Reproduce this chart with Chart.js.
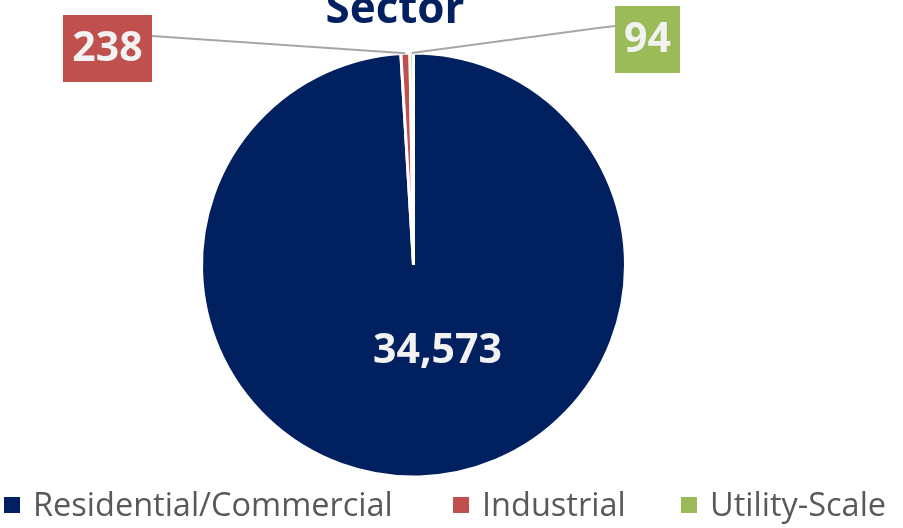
<!DOCTYPE html>
<html>
<head>
<meta charset="utf-8">
<script src="https://cdn.jsdelivr.net/npm/chart.js@4.4.1/dist/chart.umd.min.js"></script>
<style>
  html, body { margin: 0; padding: 0; background: #fff; }
  #wrap { width: 903px; height: 528px; position: relative; }
</style>
</head>
<body>
<div id="wrap"><canvas id="sectorChart" width="903" height="528"></canvas></div>
<script>
const labels = ["Residential/Commercial", "Industrial", "Utility-Scale"];
const values = [34573, 238, 94];
const valueLabels = ["34,573", "238", "94"];
const colors = ["#002060", "#C0504D", "#9BBB59"];
const titleText = "Sector";

// title, value labels with leader lines, legend
const decorPlugin = {
    id: 'decor',
    afterDraw(chart) {
        const ctx = chart.ctx;
        ctx.save();

        // title (top is cut off in the original)
        ctx.font = 'bold 44px "Open Sans"';
        ctx.fillStyle = '#002060';
        ctx.textAlign = 'center';
        ctx.textBaseline = 'alphabetic';
        ctx.fillText(titleText, 395, 23);

        const arcs = chart.getDatasetMeta(0).data;
        const edge = (arc) => {
            const p = arc.getProps(['x', 'y', 'startAngle', 'endAngle', 'outerRadius'], true);
            const mid = (p.startAngle + p.endAngle) / 2;
            return { x: p.x + Math.cos(mid) * p.outerRadius, y: p.y + Math.sin(mid) * p.outerRadius, cx: p.x, cy: p.y };
        };

        ctx.font = 'bold 41px "Open Sans"';
        ctx.textBaseline = 'middle';
        ctx.fillStyle = '#F2F2F2';

        // big slice label
        const e0 = edge(arcs[0]);
        ctx.fillText(valueLabels[0], e0.cx + 24, e0.cy + 86);

        // industrial
        const e1 = edge(arcs[1]);
        ctx.strokeStyle = '#A6A6A6';
        ctx.lineWidth = 2;
        ctx.beginPath();
        ctx.moveTo(152, 36);
        ctx.lineTo(e1.x, e1.y);
        ctx.stroke();
        ctx.fillStyle = colors[1];
        ctx.fillRect(63, 15, 89, 67);
        ctx.fillStyle = '#F2F2F2';
        ctx.fillText(valueLabels[1], 63 + 89 / 2, 15 + 67 / 2 + 1);

        // utility-scale
        const e2 = edge(arcs[2]);
        ctx.beginPath();
        ctx.moveTo(615, 26);
        ctx.lineTo(598, 28);
        ctx.lineTo(e2.x, e2.y);
        ctx.stroke();
        ctx.fillStyle = colors[2];
        ctx.fillRect(615, 6, 65, 67);
        ctx.fillStyle = '#F2F2F2';
        ctx.fillText(valueLabels[2], 615 + 65 / 2, 6 + 67 / 2 + 1);

        // legend
        ctx.font = '32.5px "Open Sans"';
        ctx.textAlign = 'left';
        ctx.textBaseline = 'alphabetic';
        const legendX = [4, 453, 681];
        labels.forEach((lab, i) => {
            const x = legendX[i];
            ctx.fillStyle = colors[i];
            ctx.fillRect(x, 497, 16, 16);
            ctx.fillStyle = '#595959';
            ctx.fillText(lab, x + 29, 516);
        });

        ctx.restore();
    }
};

const ctxSector = document.getElementById('sectorChart').getContext('2d');
const sectorChart = new Chart(ctxSector, {
    type: 'pie',
    data: {
        labels: labels,
        datasets: [{
            data: values,
            backgroundColor: colors,
            borderColor: '#FFFFFF',
            borderWidth: 3,
            radius: 212,
        }]
    },
    options: {
        responsive: false,
        animation: false,
        layout: {
            padding: { left: 0, right: 76, top: 2, bottom: 0 }
        },
        plugins: {
            legend: { display: false },
            tooltip: { enabled: false },
        }
    },
    plugins: [decorPlugin],
});
</script>
</body>
</html>
